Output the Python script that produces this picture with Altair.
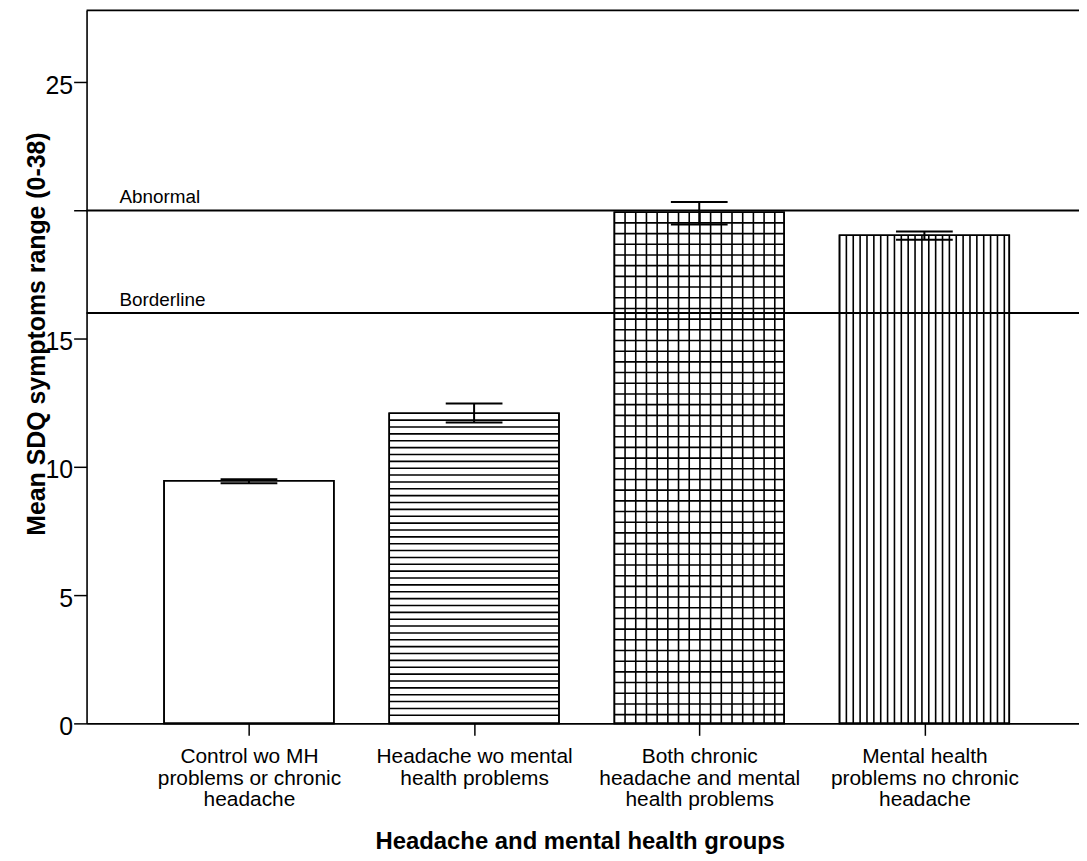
import altair as alt
import pandas as pd

# ---- data ----
categories = [
    "Control wo MH problems or chronic headache",
    "Headache wo mental health problems",
    "Both chronic headache and mental health problems",
    "Mental health problems no chronic headache",
]
label_lines = [
    ["Control wo MH", "problems or chronic", "headache"],
    ["Headache wo mental", "health problems"],
    ["Both chronic", "headache and mental", "health problems"],
    ["Mental health", "problems no chronic", "headache"],
]
positions = [1, 2, 3, 4]
means = [9.46, 12.09, 19.93, 19.03]
lower = [9.36, 11.73, 19.45, 18.86]
upper = [9.52, 12.47, 20.33, 19.18]
patterns = ["none", "horizontal", "grid", "vertical"]
ref_values = [20, 16]
ref_labels = ["Abnormal", "Borderline"]
y_ticks = [0, 5, 10, 15, 20, 25]
y_hidden_labels = [20]

# ---- style constants ----
W, H = 998, 717
X_DOMAIN = [0.2787, 4.6867]
Y_DOMAIN = [0, 27.8]
BAR_HALF = 0.377
CAP_HALF = 0.126
FINE_Y, GRID_Y = 0.2676, 0.4168
FINE_X, GRID_X = 0.0305, 0.0475
FONT = "Liberation Sans"

bars = pd.DataFrame({
    "pos": positions, "cat": categories, "mean": means,
    "lower": lower, "upper": upper,
})
bars["x0"] = bars["pos"] - BAR_HALF
bars["x1"] = bars["pos"] + BAR_HALF
bars["c0"] = bars["pos"] - CAP_HALF
bars["c1"] = bars["pos"] + CAP_HALF
bars["zero"] = 0.0

rows = []
for p, m, pat in zip(positions, means, patterns):
    x0, x1 = p - BAR_HALF, p + BAR_HALF
    if pat in ("horizontal", "grid"):
        step = FINE_Y if pat == "horizontal" else GRID_Y
        y = m - step
        while y > step * 0.3:
            rows.append(dict(x=x0, x2=x1, y=y, y2=y))
            y -= step
    if pat in ("vertical", "grid"):
        step = FINE_X if pat == "vertical" else GRID_X
        x = x0 + step
        while x < x1 - step * 0.3:
            rows.append(dict(x=x, x2=x, y=0.0, y2=m))
            x += step
hatch = pd.DataFrame(rows)

refs = pd.DataFrame({"value": ref_values, "label": ref_labels})

xs = alt.Scale(domain=X_DOMAIN, nice=False, zero=False)
ys = alt.Scale(domain=Y_DOMAIN, nice=False, zero=False)

expr = ""
for p, lines in zip(positions, label_lines):
    arr = "[" + ",".join("'" + l + "'" for l in lines) + "]"
    expr += f"datum.value == {p} ? {arr} : "
expr += "''"

y_expr = "indexof([" + ",".join(str(v) for v in y_hidden_labels) + "], datum.value) >= 0 ? '' : datum.label"

x_axis = alt.Axis(
    values=positions, labelExpr=expr, grid=False, title="Headache and mental health groups",
    domainColor="black", domainWidth=1.6, tickColor="black", tickWidth=1.5, tickSize=12,
    labelFont=FONT, labelFontSize=21, labelColor="black", labelPadding=10, labelLineHeight=22,
    labelBaseline="top", labelAlign="center", labelLimit=0,
    titleFont=FONT, titleFontSize=24, titleFontWeight="bold", titleColor="black",
    titleX=496, titleY=126, titleBaseline="alphabetic", titleAlign="center",
    labelFlush=False, labelOverlap=False,
)
y_axis = alt.Axis(
    values=y_ticks, labelExpr=y_expr, grid=False, title="Mean SDQ symptoms range (0-38)",
    domainColor="black", domainWidth=1.6, tickColor="black", tickWidth=1.5, tickSize=13,
    labelFont=FONT, labelFontSize=25, labelColor="black", labelPadding=1, labelOffset=3,
    titleFont=FONT, titleFontSize=25, titleFontWeight="bold", titleColor="black",
    titleX=-42, titleY=325, titleBaseline="alphabetic", titleAngle=-90, titleAlign="center",
    labelFlush=False, labelOverlap=False,
)


def X(field):
    return alt.X(field, scale=xs, axis=x_axis)


def Y(field):
    return alt.Y(field, scale=ys, axis=y_axis)


bar_layer = alt.Chart(bars).mark_rect(fill="white", stroke="black", strokeWidth=1.6).encode(
    x=X("x0:Q"), x2="x1:Q", y=Y("zero:Q"), y2="mean:Q",
)

hatch_layer = alt.Chart(hatch).mark_rule(color="black", strokeWidth=1.6).encode(
    x=X("x:Q"), x2="x2:Q", y=Y("y:Q"), y2="y2:Q",
)

outline_layer = alt.Chart(bars).mark_rect(fill=None, stroke="black", strokeWidth=1.6).encode(
    x=X("x0:Q"), x2="x1:Q", y=Y("zero:Q"), y2="mean:Q",
)

ref_layer = alt.Chart(refs).mark_rule(color="black", strokeWidth=2).encode(
    y=Y("value:Q"),
)
ref_text = alt.Chart(refs).mark_text(
    align="left", baseline="alphabetic", dy=-7, font=FONT, fontSize=19, color="black"
).encode(
    x=alt.value(33), y=Y("value:Q"), text="label:N",
)

err_v = alt.Chart(bars).mark_rule(color="black", strokeWidth=2).encode(
    x=X("pos:Q"), y=Y("lower:Q"), y2="upper:Q",
)
err_hi = alt.Chart(bars).mark_rule(color="black", strokeWidth=2).encode(
    x=X("c0:Q"), x2="c1:Q", y=Y("upper:Q"),
)
err_lo = alt.Chart(bars).mark_rule(color="black", strokeWidth=2).encode(
    x=X("c0:Q"), x2="c1:Q", y=Y("lower:Q"),
)

top_frame = alt.Chart(pd.DataFrame({"a": [0]})).mark_rule(color="black", strokeWidth=1.6).encode(
    x=alt.value(0), x2=alt.value(W), y=alt.value(0),
)

chart = alt.layer(
    bar_layer, hatch_layer, outline_layer, ref_layer, ref_text, err_v, err_hi, err_lo, top_frame
).properties(
    width=W, height=H,
    autosize=alt.AutoSizeParams(type="none"),
    padding={"left": 79, "top": 0, "right": 0, "bottom": 135},
    background="white",
).configure_view(stroke=None)

chart.save("out.html", embed_options={"renderer": "svg", "actions": False})
